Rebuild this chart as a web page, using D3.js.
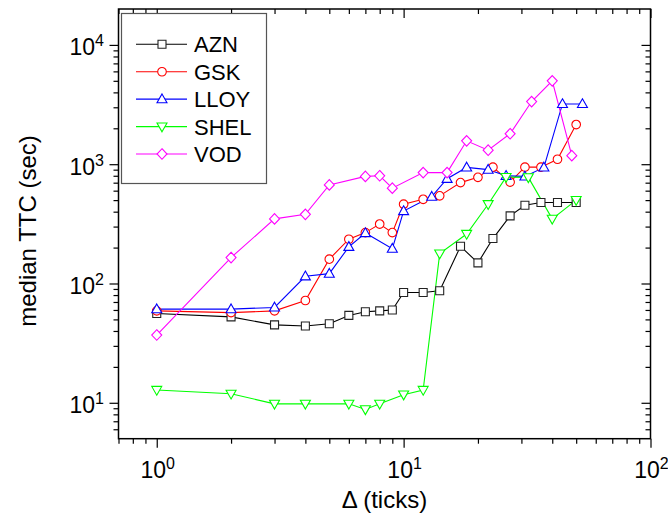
<!DOCTYPE html>
<html><head><meta charset="utf-8">
<script src="https://cdn.jsdelivr.net/npm/d3@7"></script>
<style>body{margin:0;background:#fff} svg{display:block} text{font-family:"Liberation Sans",Arial,sans-serif;fill:#000}</style>
</head><body><svg id="c" width="668" height="516"></svg>
<script>
// ---- data ----
const seriesNames = ["AZN","GSK","LLOY","SHEL","VOD"];
const xAZN  = [1,2,3,4,5,6,7,8,9,10,12,14,17,20,23,27,31,36,42,50];
const yAZN  = [56,52.5,45,44,46,54,58,59,60,84,84,87,205,149,238,369,453,477,477,477];
const xGSK  = [1,2,3,4,5,6,7,8,9,10,12,14,17,20,23,27,31,36,42,50];
const yGSK  = [59,57,59,72,160,235,267,315,267,462,508,543,701,776,945,708,945,945,1100,2150];
const xLLOY = [1,2,3,4,5,6,7,9,10,13,15,18,22,26,31,37,44,53];
const yLLOY = [61,61,63,115,121,203,265,196,405,535,755,940,900,800,790,940,3200,3200];
const xSHEL = [1,2,3,4,6,7,8,10,12,14,18,22,26,32,40,50];
const ySHEL = [12.8,11.9,9.8,9.8,9.8,8.8,9.8,11.7,12.8,178,260,462,780,775,348,500];
const xVOD  = [1,2,3,4,5,7,8,9,12,15,18,22,27,33,40,48];
const yVOD  = [37,165,348,380,670,790,800,630,850,850,1570,1310,1800,3350,5000,1180];
const xTickExps = [0,1,2];
const yTickExps = [1,2,3,4];
const xTitle = "\u0394 (ticks)";
const yTitle = "median TTC (sec)";

const colors = {AZN:"#000000",GSK:"#ff0000",LLOY:"#0000ff",SHEL:"#00ff00",VOD:"#ff00ff"};
const markerColors = {AZN:"#222222",GSK:"#ff0000",LLOY:"#0000ff",SHEL:"#00ff00",VOD:"#ff00ff"};
const shapes = {AZN:"square",GSK:"circle",LLOY:"up",SHEL:"down",VOD:"diamond"};
const seriesData = {
  AZN: xAZN.map((d,i)=>[d,yAZN[i]]),
  GSK: xGSK.map((d,i)=>[d,yGSK[i]]),
  LLOY: xLLOY.map((d,i)=>[d,yLLOY[i]]),
  SHEL: xSHEL.map((d,i)=>[d,ySHEL[i]]),
  VOD: xVOD.map((d,i)=>[d,yVOD[i]])
};

// ---- layout ----
const L=118.5, R=650.5, T=9, B=438.7;
const x = d3.scaleLog().domain([0.7,100]).range([L,R]);
const y = d3.scaleLog().domain([5,20000]).range([B,T]);
const svg = d3.select("#c");

function markerPath(s){
  switch(s){
    case "square": return "M-4,-4h8v8h-8z";
    case "circle": { const r=4.3; return `M${r},0A${r},${r} 0 1,1 ${-r},0A${r},${r} 0 1,1 ${r},0Z`; }
    case "up": return "M0,-5.2L5,3.6L-5,3.6Z";
    case "down": return "M0,5.2L5,-3.6L-5,-3.6Z";
    case "diamond": return "M0,-5.3L5,0L0,5.3L-5,0Z";
  }
}

// minor tick values
const xMinor=[], yMinor=[];
[0.1,1,10].forEach(b=>{for(let k=2;k<=9;k++){const v=b*k; if(v>0.7&&v<100) xMinor.push(v);}});
[1,10,100,1000,10000].forEach(b=>{for(let k=2;k<=9;k++){const v=b*k; if(v>5&&v<20000) yMinor.push(v);}});
const xMajor = xTickExps.map(e=>Math.pow(10,e));
const yMajor = yTickExps.map(e=>Math.pow(10,e));

function styleAxis(g){ g.select(".domain").remove(); g.selectAll("line").attr("stroke","#000").attr("stroke-width",1.2); g.selectAll("text").remove(); }
svg.append("g").attr("transform",`translate(0,${B})`).call(d3.axisBottom(x).tickValues(xMajor).tickSize(9)).call(styleAxis);
svg.append("g").attr("transform",`translate(0,${B})`).call(d3.axisBottom(x).tickValues(xMinor).tickSize(5)).call(styleAxis);
svg.append("g").attr("transform",`translate(0,${T})`).call(d3.axisTop(x).tickValues(xMajor).tickSize(-9)).call(styleAxis);
svg.append("g").attr("transform",`translate(0,${T})`).call(d3.axisTop(x).tickValues(xMinor).tickSize(-5)).call(styleAxis);
svg.append("g").attr("transform",`translate(${L},0)`).call(d3.axisLeft(y).tickValues(yMajor).tickSize(9)).call(styleAxis);
svg.append("g").attr("transform",`translate(${L},0)`).call(d3.axisLeft(y).tickValues(yMinor).tickSize(5)).call(styleAxis);
svg.append("g").attr("transform",`translate(${R},0)`).call(d3.axisRight(y).tickValues(yMajor).tickSize(-9)).call(styleAxis);
svg.append("g").attr("transform",`translate(${R},0)`).call(d3.axisRight(y).tickValues(yMinor).tickSize(-5)).call(styleAxis);

// tick labels
xTickExps.forEach(e=>{
  const t=svg.append("text").attr("x",x(Math.pow(10,e))+1).attr("y",477.5).attr("text-anchor","middle").attr("font-size",23);
  t.append("tspan").text("10");
  t.append("tspan").attr("dy",-9).attr("font-size",16).text(e);
});
yTickExps.forEach(e=>{
  const t=svg.append("text").attr("x",104).attr("y",y(Math.pow(10,e))+10.5).attr("text-anchor","end").attr("font-size",23);
  t.append("tspan").text("10");
  t.append("tspan").attr("dy",-9).attr("font-size",16).text(e);
});

// titles
svg.append("text").attr("x",(L+R)/2).attr("y",508).attr("text-anchor","middle").attr("font-size",24).text(xTitle);
svg.append("text").attr("transform",`translate(36,${231}) rotate(-90)`).attr("text-anchor","middle").attr("font-size",24).text(yTitle);

// series
const line = d3.line().x(d=>x(d[0])).y(d=>y(d[1]));
const plot = svg.append("g");
seriesNames.forEach(n=>{
  plot.append("path").datum(seriesData[n]).attr("d",line).attr("fill","none").attr("stroke",colors[n]).attr("stroke-width",1.1);
});
seriesNames.forEach(n=>{
  plot.selectAll(null).data(seriesData[n]).enter().append("path")
    .attr("transform",d=>`translate(${x(d[0])},${y(d[1])})`)
    .attr("d",markerPath(shapes[n])).attr("fill","#fff").attr("stroke",markerColors[n]).attr("stroke-width",1.1);
});

// frame
svg.append("rect").attr("x",L).attr("y",T).attr("width",R-L).attr("height",B-T).attr("fill","none").attr("stroke","#000").attr("stroke-width",1.5);

// legend
const lg = svg.append("g");
lg.append("rect").attr("x",121.5).attr("y",13.5).attr("width",145).attr("height",170).attr("fill","#fff").attr("stroke","#555").attr("stroke-width",1.2);
const rowY = d3.scalePoint().domain(seriesNames).range([44.3,154]);
seriesNames.forEach(n=>{
  const yy=rowY(n);
  lg.append("line").attr("x1",136).attr("x2",187).attr("y1",yy).attr("y2",yy).attr("stroke",colors[n]).attr("stroke-width",1.1);
  lg.append("path").attr("transform",`translate(162,${yy})`).attr("d",markerPath(shapes[n])).attr("fill","#fff").attr("stroke",markerColors[n]).attr("stroke-width",1.1);
  lg.append("text").attr("x",194).attr("y",yy+8).attr("font-size",22).text(n);
});
</script></body></html>
